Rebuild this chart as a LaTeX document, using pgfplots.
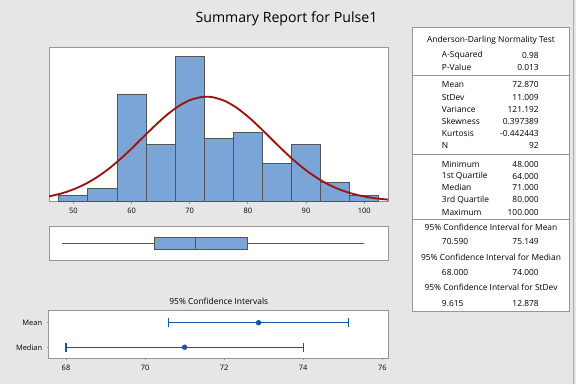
\documentclass[border=0pt]{standalone}
\usepackage{fontspec}
\setmainfont{Open Sans}
\usepackage{pgfplots}
\pgfplotsset{compat=1.18}
\usepgfplotslibrary{statistics}
\definecolor{bg}{RGB}{230,230,230}
\definecolor{frame}{RGB}{150,150,150}
\definecolor{barblue}{RGB}{123,165,214}
\definecolor{baredge}{RGB}{85,85,85}
\definecolor{curve}{RGB}{155,20,20}
\definecolor{ciblue}{RGB}{20,85,160}
\begin{document}
\begin{tikzpicture}
\begin{scope}[x=0.75pt,y=0.75pt]
\fill[bg] (0,0) rectangle (576,384);
\draw[frame!80!white, line width=0.75pt] (573.5,0) -- (573.5,384);
\node[font=\fontsize{10.6}{12}\selectfont] at (286.5,366) {Summary Report for Pulse1};
\end{scope}
\pgfplotsset{every axis/.append style={
  scale only axis, anchor=south west,
  axis line style={draw=frame, line width=0.75pt},
  tick label style={font=\fontsize{5.6}{6}\selectfont, text=black},
  /pgf/number format/assume math mode=true,
  tick align=outside, major tick length=1.6pt,
  every tick/.style={draw=frame, line width=0.6pt},
}}
% Histogram
\begin{axis}[at={(36.75pt,137.25pt)}, width=254.25pt, height=115.5pt,
  xmin=45.8, xmax=104.1, ymin=0, ymax=24.5,
  xtick={50,60,70,80,90,100}, ytick=\empty, xtick pos=bottom,
  axis background/.style={fill=white}, clip=true]
\addplot[ybar interval, fill=barblue, draw=baredge, line width=0.75pt]
coordinates {(47.5,1) (52.5,2) (57.5,17) (62.5,9) (67.5,23) (72.5,10) (77.5,11) (82.5,6) (87.5,9) (92.5,3) (97.5,1) (102.5,1)};
\addplot[curve, line width=1.4pt, smooth, mark=none] coordinates {
(45.8,0.80) (46,0.847) (48,1.298) (50,1.927) (52,2.764) (54,3.836) (56,5.153) (58,6.695)
(60,8.417) (62,10.239) (64,12.049) (66,13.721) (68,15.117) (70,16.114) (72,16.618)
(72.87,16.67) (74,16.583) (76,16.010) (78,14.955) (80,13.517) (82,11.819) (84,10.000)
(86,8.185) (88,6.483) (90,4.968) (92,3.683) (94,2.642) (96,1.834) (98,1.232)
(100,0.800) (102,0.503) (104,0.306) (104.1,0.30)};
\end{axis}
% Boxplot
\begin{axis}[at={(36.75pt,93pt)}, width=254.25pt, height=25.5pt,
  xmin=45.8, xmax=104.1, ymin=0, ymax=1,
  xtick=\empty, ytick=\empty, axis background/.style={fill=white}]
\addplot[boxplot prepared={lower whisker=48, lower quartile=64, median=71,
  upper quartile=80, upper whisker=100, draw position=0.49, box extend=0.35,
  whisker extend=0}, draw=baredge, fill=barblue, line width=0.75pt]
  coordinates {};
\end{axis}
% CI
\begin{axis}[at={(36.75pt,19.7pt)}, width=254.25pt, height=35.8pt,
  xmin=67.57, xmax=76.144, ymin=-0.45, ymax=1.5,
  xtick={68,70,72,74,76}, ytick={0,1}, yticklabels={Median,Mean},
  xtick pos=bottom, ytick pos=left, axis background/.style={fill=white}]
\addplot[only marks, ciblue, mark=*, mark size=1.8pt,
  mark options={fill=ciblue, draw=ciblue},
  error bars/.cd, x dir=both, x explicit,
  error bar style={line width=0.9pt, draw=ciblue},
  error mark options={rotate=90, mark size=3.4pt, line width=0.9pt, draw=ciblue}]
coordinates {(72.87,1) +=(2.279,0) -=(2.28,0)
             (71,0) +=(3,0) -=(3,0)};
\end{axis}
\begin{scope}[x=0.75pt,y=0.75pt, font=\fontsize{6.3}{7.5}\selectfont]
\node at (218.8,83.3) {95\% Confidence Intervals};
\fill[white] (412,73) rectangle (569,357);
\draw[frame, line width=0.75pt] (412,73) rectangle (569,357);
\draw[frame, line width=0.75pt] (412,309) -- (569,309);
\draw[frame, line width=0.75pt] (412,230) -- (569,230);
\draw[frame, line width=0.75pt] (412,165) -- (569,165);
\node at (491,344) {Anderson-Darling Normality Test};
\foreach \lab/\val/\yy in {A-Squared/0.98/329.3, P-Value/0.013/317.3,
  Mean/72.870/300, StDev/11.009/287.3, Variance/121.192/275, Skewness/0.397389/263,
  Kurtosis/-0.442443/251.3, N/92/238.7, Minimum/48.000/220, 1st Quartile/64.000/208.3,
  Median/71.000/196.7, 3rd Quartile/80.000/184.7, Maximum/100.000/172.3}{
  \node[anchor=west, inner sep=0pt] at (441.7,\yy) {\lab};
  \node[anchor=east, inner sep=0pt] at (539,\yy) {\val};
}
\node at (491,157.3) {95\% Confidence Interval for Mean};
\node[anchor=west, inner sep=0pt] at (441.7,143.3) {70.590};
\node[anchor=east, inner sep=0pt] at (539,143.3) {75.149};
\node at (491,126.7) {95\% Confidence Interval for Median};
\node[anchor=west, inner sep=0pt] at (441.7,112.3) {68.000};
\node[anchor=east, inner sep=0pt] at (539,112.3) {74.000};
\node at (491,96.7) {95\% Confidence Interval for StDev};
\node[anchor=west, inner sep=0pt] at (441.7,81.3) {9.615};
\node[anchor=east, inner sep=0pt] at (539,81.3) {12.878};
\end{scope}
\end{tikzpicture}
\end{document}
